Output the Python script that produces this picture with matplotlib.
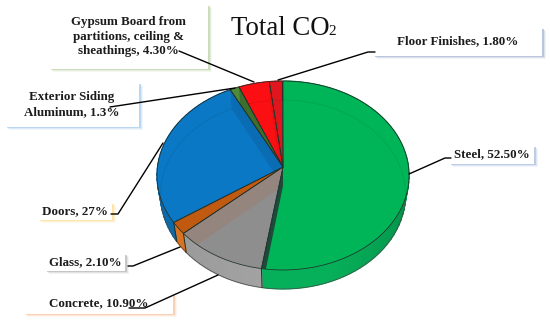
import numpy as np
import matplotlib
matplotlib.use("Agg")
import matplotlib.pyplot as plt
from matplotlib.patches import Polygon, Rectangle
from matplotlib.colors import to_rgb

# ---- data ----
categories = ["Steel", "Concrete", "Glass", "Doors", "Exterior Siding Aluminum",
              "Gypsum Board", "Floor Finishes"]
values = [52.5, 10.9, 2.1, 27.0, 1.3, 4.3, 1.8]
labels = ["Steel, 52.50%", "Concrete, 10.90%", "Glass, 2.10%", "Doors, 27%",
          "Exterior Siding\nAluminum, 1.3%",
          "Gypsum Board from\npartitions, ceiling &\nsheathings, 4.30%",
          "Floor Finishes, 1.80%"]
top_colors = ["#00B558", "#8E8E8E", "#DE6A14", "#0A78C4", "#4F8A3B", "#FB0F12", "#E0161E"]
wall_colors = ["#06B05A", "#A2A2A2", "#D8731F", "#0B6AAA", "#3F7030", "#C81010", "#B81015"]
band_colors = ["#1D4A3B", "#94867E", "#C05A10", "#0A6CB2", "#3C6E2E", "#E81010", "#D01018"]

# ---- layout (pixels) ----
boxes = [(449, 146, 85, 18, "#B4C6E4"), (24, 294, 149, 20, "#F8CBAD"), (45, 254, 80, 17, "#BFBFBF"),
         (38, 203, 74, 17, "#FFE2A0"), (5, 83, 134, 44, "#B0D2F0"), (49, 5, 159, 64, "#C5DAB2"),
         (373, 28, 169, 28, "#AEBDD6")]
leaders = [[(451, 158), (445, 158), (409, 174)], [(129, 308), (145, 308), (218, 275)],
           [(128, 266), (133, 266), (180, 247)], [(111, 214), (118, 214), (163, 143)],
           [(110, 107), (235, 88)], [(179, 51), (254, 82)],
           [(375, 52), (368, 52), (278, 80)]]

CX, AY, AY2 = 283.0, 167.0, 186.0
A, A2, B, K = 125.5, 122.0, 93.7, 0.09


def rim(theta, lower=False):
    t = np.radians(theta)
    u, v = np.sin(t), -np.cos(t)
    d = 1 - K * v
    return np.column_stack([CX + (A2 if lower else A) * u / d,
                            (AY2 if lower else AY) + B * v / d])


fig = plt.figure(figsize=(5.5, 3.22), dpi=100)
ax = fig.add_axes([0, 0, 1, 1])
ax.set_xlim(0, 550)
ax.set_ylim(322, 0)
ax.axis("off")

edges = np.concatenate([[0], np.cumsum(values)]) * 3.6
EDGE = "#20302a"

# outer walls
for i in range(len(values)):
    a, b = edges[i], edges[i + 1]
    n = max(2, int((b - a) / 3))
    th = np.linspace(a, b, n + 1)
    base = np.array(to_rgb(wall_colors[i]))
    for j in range(n):
        seg = np.linspace(th[j], th[j + 1], 3)
        shade = 1.0
        if i == 0:
            shade = 0.78 + 0.22 * np.clip((th[j] - 90) / 70, 0, 1)
        elif i == 1:
            shade = 1.0 - 0.05 * (th[j] - a) / (b - a)
        pts = np.vstack([rim(seg), rim(seg[::-1], True)])
        ax.add_patch(Polygon(pts, closed=True, fc=base * shade, ec=base * shade, lw=0.9, zorder=2))
    ax.plot(*rim(th, True).T, color="#4a4a4a", lw=0.5, zorder=3)
    low = np.vstack([rim([a]), rim([a], True)])
    if 100 < a < 260:
        ax.plot(*low.T, color=EDGE, lw=0.7, zorder=3)

# top faces and see-through bands
for i in range(len(values)):
    a, b = edges[i], edges[i + 1]
    th = np.linspace(a, b, max(3, int(b - a) * 2))
    pts = np.vstack([[CX, AY], rim(th)])
    top = Polygon(pts, closed=True, fc=top_colors[i], ec="none", zorder=4)
    ax.add_patch(top)
    band = np.vstack([rim([b]), [[CX, AY], [CX, AY2]], rim([b], True)])
    bp = Polygon(band, closed=True, fc=band_colors[i], ec="none", zorder=5)
    ax.add_patch(bp)
    bp.set_clip_path(top)
    ghost, = ax.plot(*rim(th, True).T, color="black", lw=0.5, alpha=0.1, zorder=5)
    ghost.set_clip_path(top)
    ax.add_patch(Polygon(pts, closed=True, fc="none", ec=EDGE, lw=0.55, zorder=6))

# callouts
for (x, y, w, h, col), lab in zip(boxes, labels):
    for off, al in [(4.0, 0.18), (3.2, 0.3), (2.4, 0.45), (1.6, 0.6)]:
        ax.add_patch(Rectangle((x + off, y + off - 1), w, h, fc=col, ec="none", alpha=al, zorder=7))
    ax.add_patch(Rectangle((x, y), w, h, fc="white", ec="none", zorder=8))
    ax.text(x + w / 2, y + h / 2 - 0.5, lab, ha="center", va="center", family="Liberation Serif",
            weight="bold", fontsize=9.4, color="#1c1c1c", linespacing=1.28, zorder=9)

for line in leaders:
    ax.plot(*np.array(line).T, color="black", lw=1.0, zorder=10, solid_capstyle="round")

ax.text(231, 35, "Total CO", family="Liberation Serif", fontsize=19.3, color="#111111",
        ha="left", va="baseline", zorder=11)
ax.text(328.5, 35, "2", family="Liberation Serif", fontsize=11, color="#111111",
        ha="left", va="baseline", zorder=11)

fig.savefig("out.png", dpi=100)
